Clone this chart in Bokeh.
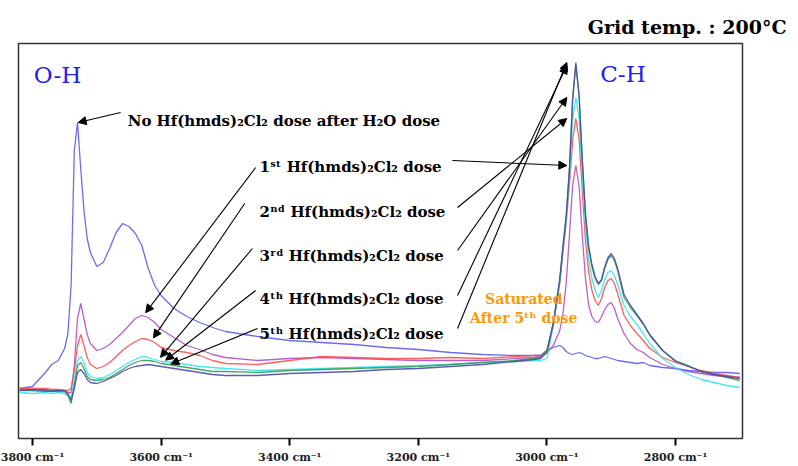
import numpy as np
from bokeh.plotting import figure
from bokeh.models import Range1d, FixedTicker, Label, Arrow, NormalHead
from bokeh.embed import file_html
from bokeh.resources import INLINE

# wavenumber grid (cm-1)
wavenumber = [3820, 3800, 3780, 3770, 3760, 3750, 3745, 3740, 3735, 3730,
              3725, 3720, 3715, 3710, 3700, 3690, 3680, 3670, 3660, 3650,
              3640, 3630, 3620, 3610, 3600, 3580, 3560, 3540, 3520, 3500,
              3450, 3400, 3350, 3300, 3250, 3200, 3150, 3100, 3050, 3020,
              3010, 3000, 2990, 2980, 2975, 2970, 2965, 2960, 2955, 2950,
              2945, 2940, 2935, 2930, 2925, 2920, 2915, 2910, 2905, 2900,
              2895, 2890, 2880, 2870, 2860, 2850, 2840, 2820, 2800, 2780,
              2760, 2740, 2720, 2700]

# absorbance (mA.U.)
no_dose = [50, 52, 66, 74, 78, 90, 105, 153, 288, 316,
           270, 228, 200, 186, 172, 176, 190, 206, 215, 212,
           205, 193, 170, 153, 143, 130, 122, 116, 111, 107,
           102, 98, 96, 94, 91, 89, 86, 84, 83, 83,
           83, 88, 91, 93, 91, 87, 85, 84, 85, 86,
           85, 83, 82, 81, 80, 80, 81, 82, 81, 80,
           79, 78, 77, 76, 75, 76, 73, 71, 70, 68,
           67, 66, 66, 65]
dose_1 = [48, 48, 49, 48, 48, 48, 46, 46, 73, 120,
          135, 120, 104, 95, 88, 90, 94, 100, 106, 113,
          120, 123, 121, 116, 109, 101, 93, 89, 84, 81,
          78, 80, 81, 80, 79, 78, 78, 78, 80, 81,
          82, 86, 93, 108, 125, 155, 203, 253, 273, 253,
          203, 160, 133, 122, 117, 116, 122, 129, 134, 136,
          130, 120, 105, 95, 89, 86, 81, 74, 70, 67,
          65, 63, 62, 61]
dose_2 = [50, 50, 50, 49, 49, 48, 48, 50, 68, 93,
          104, 93, 81, 74, 70, 72, 76, 82, 88, 93,
          97, 100, 99, 96, 91, 88, 86, 83, 78, 75,
          74, 78, 82, 81, 80, 80, 81, 80, 82, 83,
          83, 88, 113, 155, 186, 216, 253, 298, 320, 300,
          248, 198, 166, 148, 138, 133, 140, 151, 158, 160,
          155, 145, 123, 113, 105, 98, 90, 81, 76, 72,
          68, 65, 63, 61]
dose_3 = [46, 45, 46, 45, 46, 45, 43, 41, 60, 78,
          82, 76, 66, 62, 60, 61, 64, 68, 72, 76,
          79, 82, 81, 79, 77, 76, 74, 72, 71, 70,
          68, 69, 70, 71, 72, 73, 74, 76, 77, 78,
          78, 80, 113, 156, 188, 218, 260, 318, 341, 320,
          263, 213, 180, 160, 148, 141, 148, 159, 166, 168,
          163, 154, 133, 122, 114, 105, 95, 80, 71, 64,
          59, 56, 53, 51]
dose_4 = [49, 48, 47, 48, 47, 47, 43, 35, 53, 73,
          76, 70, 62, 59, 58, 59, 61, 65, 69, 73,
          76, 78, 78, 77, 75, 73, 71, 69, 67, 67,
          66, 68, 69, 70, 71, 72, 74, 76, 78, 80,
          81, 88, 115, 158, 191, 221, 268, 338, 373, 343,
          278, 223, 190, 172, 160, 154, 158, 170, 179, 183,
          178, 168, 141, 131, 123, 114, 103, 88, 78, 73,
          67, 64, 61, 58]
dose_5 = [48, 49, 48, 47, 48, 48, 45, 38, 50, 66,
          69, 65, 59, 56, 55, 57, 60, 63, 67, 70,
          72, 73, 74, 73, 72, 70, 68, 66, 64, 63,
          63, 65, 66, 67, 69, 70, 72, 74, 77, 79,
          80, 86, 116, 160, 193, 223, 270, 340, 376, 344,
          280, 225, 192, 174, 162, 155, 159, 172, 181, 185,
          180, 170, 144, 133, 124, 115, 104, 88, 77, 72,
          67, 64, 62, 60]

tick_values = [3800, 3600, 3400, 3200, 3000, 2800]
dose_labels = ["1ˢᵗ Hf(hmds)₂Cl₂ dose", "2ⁿᵈ Hf(hmds)₂Cl₂ dose",
               "3ʳᵈ Hf(hmds)₂Cl₂ dose", "4ᵗʰ Hf(hmds)₂Cl₂ dose",
               "5ᵗʰ Hf(hmds)₂Cl₂ dose"]
doses = [dose_1, dose_2, dose_3, dose_4, dose_5]
colors = ["#5c5cf0", "#b050c8", "#ff4c4c", "#30e6ee", "#3a9a52", "#4a4aaa"]

FONT = "DejaVu Serif"

p = figure(width=798, height=466, output_backend="svg", toolbar_location=None,
           x_range=Range1d(3821.8, 2695.8), y_range=Range1d(0, 395),
           y_axis_location=None, min_border_left=18, min_border_right=56,
           min_border_top=43, min_border_bottom=28)
p.grid.visible = False
p.outline_line_color = "#333333"
p.outline_line_width = 1.5
p.background_fill_color = "white"
p.border_fill_color = "white"

p.title.text = "Grid temp. : 200°C"
p.title.align = "right"
p.title.offset = -44
p.title.standoff = 12
p.title.text_font = FONT
p.title.text_font_size = "19px"
p.title.text_font_style = "bold"
p.title.text_color = "black"

xa = p.xaxis[0]
xa.ticker = FixedTicker(ticks=tick_values)
xa.major_label_overrides = {t: f"{t} cm⁻¹" for t in tick_values}
xa.major_tick_out = 7
xa.major_tick_in = 0
xa.major_tick_line_width = 2
xa.major_tick_line_color = "black"
xa.minor_tick_line_color = None
xa.axis_line_color = None
xa.major_label_standoff = 5
xa.major_label_text_font = FONT
xa.major_label_text_font_size = "11px"
xa.major_label_text_font_style = "bold"
xa.major_label_text_color = "#222222"

for ys, c in zip([no_dose] + doses, colors):
    p.line(wavenumber, ys, line_color=c, line_width=1.3, line_alpha=0.9)


def lab(text, x, y, size, color="black", bold=True, align="left"):
    p.add_layout(Label(x=x, y=y, text=text, text_font=FONT, text_font_size=size,
                       text_font_style="bold" if bold else "normal",
                       text_color=color, text_align=align,
                       text_baseline="alphabetic"))


def arrow(x0, y0, x1, y1):
    p.add_layout(Arrow(end=NormalHead(size=8, fill_color="black", line_color="black",
                                      line_width=1),
                       x_start=x0, y_start=y0, x_end=x1, y_end=y1,
                       line_color="black", line_width=1.1))


wn_rev = np.array(wavenumber[::-1], dtype=float)


def val_at(series, wn):
    return float(np.interp(wn, wn_rev, np.array(series[::-1], dtype=float)))


lab("O-H", 3798, 364, "23px", color="#2020ee", bold=False)
lab("C-H", 2917, 365, "23px", color="#2020ee", bold=False)

lab("No Hf(hmds)₂Cl₂ dose after H₂O dose", 3652, 318, "15px")
i_max = int(np.argmax(no_dose))
arrow(3663, 326, wavenumber[i_max] - 1, no_dose[i_max])

label_y = [272, 227, 183, 140, 105]
ch_start = [(3147, 278), (3139, 231), (3139, 188), (3139, 143), (3139, 110)]
oh_start = [(3453, 271), (3470, 235), (3458, 190), (3453, 148), (3450, 110)]
oh_end_x = [3624, 3612, 3601, 3593, 3585]
ch_mask = [w < 3000 for w in wavenumber]
for k, (txt, ly, d) in enumerate(zip(dose_labels, label_y, doses)):
    lab(txt, 3447, ly, "15px")
    peak = max(v for v, m in zip(d, ch_mask) if m)
    arrow(ch_start[k][0], ch_start[k][1], 2969, peak)
    arrow(oh_start[k][0], oh_start[k][1], oh_end_x[k], val_at(d, oh_end_x[k]) + 4)

lab("Saturated", 3036, 140, "14px", color="#ff9900", align="center")
lab("After 5ᵗʰ dose", 3036, 121, "14px", color="#ff9900", align="center")

open("out.html", "w").write(file_html(p, INLINE))
